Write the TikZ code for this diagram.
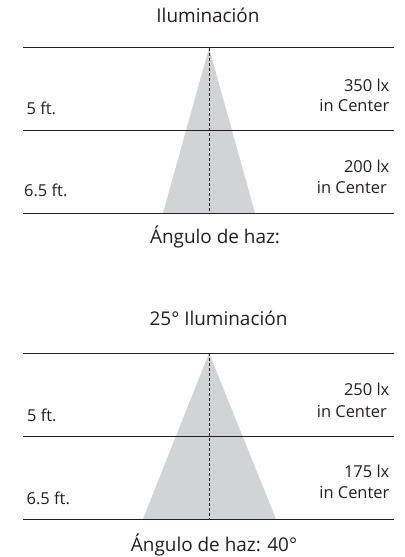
\documentclass[tikz,border=0pt]{standalone}
\usepackage{fontspec}
\setmainfont{Open Sans}
\definecolor{beam}{HTML}{D1D3D4}
\definecolor{ink}{HTML}{231F20}
\begin{document}
\begin{tikzpicture}[x=1bp,y=-1bp,
  level/.style={draw=ink, line width=1bp},
  axis/.style={draw=ink, line width=1bp, dash pattern=on 3bp off 2bp},
  cone/.style={fill=beam, draw=none},
  lbl/.style={inner sep=0pt, font=\fontsize{16.5}{19}\selectfont, text=ink},
  ttl/.style={inner sep=0pt, anchor=base, font=\fontsize{19}{22}\selectfont, text=ink}]
\useasboundingbox (0,0) rectangle (404,557);
% ---------- top panel ----------
\coordinate (a1) at (209,48);
\coordinate (l1) at (23,48);  \coordinate (r1) at (394,48);
\coordinate (l2) at (23,131); \coordinate (r2) at (394,131);
\coordinate (l3) at (23,213); \coordinate (r3) at (394,213);
\coordinate (b1l) at (163,213); \coordinate (b1r) at (255,213);
\coordinate (b1c) at (209,213);
\fill[cone] (a1) -- (b1l) -- (b1r) -- cycle;
\draw[level] (l1) -- (r1);
\draw[level] (l2) -- (r2);
\draw[level] (l3) -- (r3);
\draw[axis] (a1) -- (b1c);
\node[ttl] (t1) at (208,23) {Iluminación};
\node[lbl, anchor=base west] (f1a) at (26.5,115) {5 ft.};
\node[lbl, anchor=base west] (f1b) at (24,197) {6.5 ft.};
\node[lbl, anchor=base east] (v1a) at (389.5,92) {350 lx};
\node[lbl, anchor=base east] (c1a) at (389.5,112) {in Center};
\node[lbl, anchor=base east] (v1b) at (389.5,173) {200 lx};
\node[lbl, anchor=base east] (c1b) at (387,194) {in Center};
\node[ttl] (cap1) at (215,243) {Ángulo de haz:};
% ---------- bottom panel ----------
\coordinate (a2) at (209,353);
\coordinate (m1) at (23,353);  \coordinate (s1) at (394,353);
\coordinate (m2) at (23,436);  \coordinate (s2) at (394,436);
\coordinate (m3) at (23,519);  \coordinate (s3) at (394,519);
\coordinate (b2l) at (143,519); \coordinate (b2r) at (276,519);
\coordinate (b2c) at (209,519);
\fill[cone] (a2) -- (b2l) -- (b2r) -- cycle;
\draw[level] (m1) -- (s1);
\draw[level] (m2) -- (s2);
\draw[level] (m3) -- (s3);
\draw[axis] (a2) -- (b2c);
\node[ttl] (t2) at (218.5,325) {25° Iluminación};
\node[lbl, anchor=base west] (f2a) at (27,421) {5 ft.};
\node[lbl, anchor=base west] (f2b) at (26.5,504) {6.5 ft.};
\node[lbl, anchor=base east] (v2a) at (389.5,395) {250 lx};
\node[lbl, anchor=base east] (c2a) at (387,417) {in Center};
\node[lbl, anchor=base east] (v2b) at (389.5,477) {175 lx};
\node[lbl, anchor=base east] (c2b) at (389.5,498) {in Center};
\node[ttl] (cap2) at (214,551) {Ángulo de haz: 40°};
\end{tikzpicture}
\end{document}
